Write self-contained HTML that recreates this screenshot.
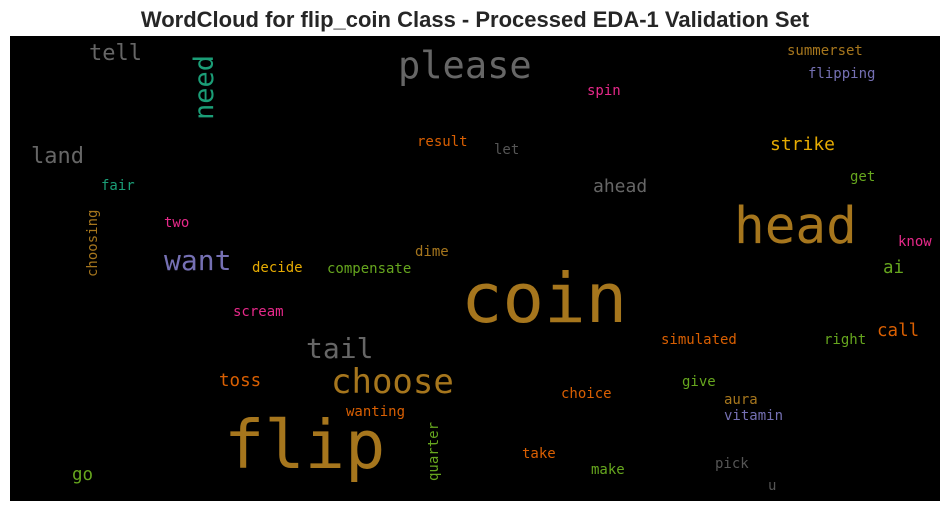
<!DOCTYPE html>
<html><head><meta charset="utf-8"><style>
html,body{margin:0;padding:0;background:#fff;width:950px;height:511px;overflow:hidden}
svg text{font-family:"DejaVu Sans Mono","Liberation Mono",monospace}
</style></head><body>
<svg width="950" height="511" xmlns="http://www.w3.org/2000/svg">
<text x="475" y="27" text-anchor="middle" style="font-family:'Liberation Sans',Arial,sans-serif;font-weight:bold;font-size:22px" fill="#262626">WordCloud for flip_coin Class - Processed EDA-1 Validation Set</text>
<rect x="10" y="36" width="930" height="465" fill="#000"/>
<g>
<text x="461" y="322" font-size="69" fill="#a6761d">coin</text>
<text x="224" y="468" font-size="67" fill="#a6761d">flip</text>
<text x="734" y="243" font-size="51" fill="#a6761d">head</text>
<text x="398" y="78" font-size="37" fill="#666666">please</text>
<text x="331" y="393" font-size="34" fill="#a6761d">choose</text>
<text x="306" y="358" font-size="28" fill="#666666">tail</text>
<text x="164" y="270" font-size="28" fill="#7570b3">want</text>
<text transform="translate(213,120) rotate(-90)" font-size="27" fill="#1b9e77">need</text>
<text x="31" y="163" font-size="22" fill="#666666">land</text>
<text x="89" y="60" font-size="22" fill="#666666">tell</text>
<text x="593" y="192" font-size="18" fill="#666666">ahead</text>
<text x="770" y="150" font-size="18" fill="#e6ab02">strike</text>
<text x="219" y="386" font-size="17.5" fill="#d95f02">toss</text>
<text x="877" y="336" font-size="17.5" fill="#d95f02">call</text>
<text x="883" y="273" font-size="17.5" fill="#66a61e">ai</text>
<text x="72" y="480" font-size="17.5" fill="#66a61e">go</text>
<g font-size="14">
<text x="417" y="146" fill="#d95f02">result</text>
<text x="494" y="154" fill="#555555">let</text>
<text x="587" y="95" fill="#e7298a">spin</text>
<text x="787" y="55" fill="#a6761d">summerset</text>
<text x="808" y="78" fill="#7570b3">flipping</text>
<text x="850" y="181" fill="#66a61e">get</text>
<text x="101" y="190" fill="#1b9e77">fair</text>
<text x="164" y="227" fill="#e7298a">two</text>
<text transform="translate(97,277) rotate(-90)" fill="#a6761d">choosing</text>
<text x="415" y="256" fill="#a6761d">dime</text>
<text x="252" y="272" fill="#e6ab02">decide</text>
<text x="327" y="273" fill="#66a61e">compensate</text>
<text x="898" y="246" fill="#e7298a">know</text>
<text x="233" y="316" fill="#e7298a">scream</text>
<text x="661" y="344" fill="#d95f02">simulated</text>
<text x="824" y="344" fill="#66a61e">right</text>
<text x="561" y="398" fill="#d95f02">choice</text>
<text x="682" y="386" fill="#66a61e">give</text>
<text x="724" y="404" fill="#a6761d">aura</text>
<text x="724" y="420" fill="#7570b3">vitamin</text>
<text x="346" y="416" fill="#d95f02">wanting</text>
<text transform="translate(438,481) rotate(-90)" fill="#66a61e">quarter</text>
<text x="522" y="458" fill="#d95f02">take</text>
<text x="591" y="474" fill="#66a61e">make</text>
<text x="715" y="468" fill="#555555">pick</text>
<text x="768" y="490" fill="#555555">u</text>
</g>
</g>
</svg>
</body></html>
